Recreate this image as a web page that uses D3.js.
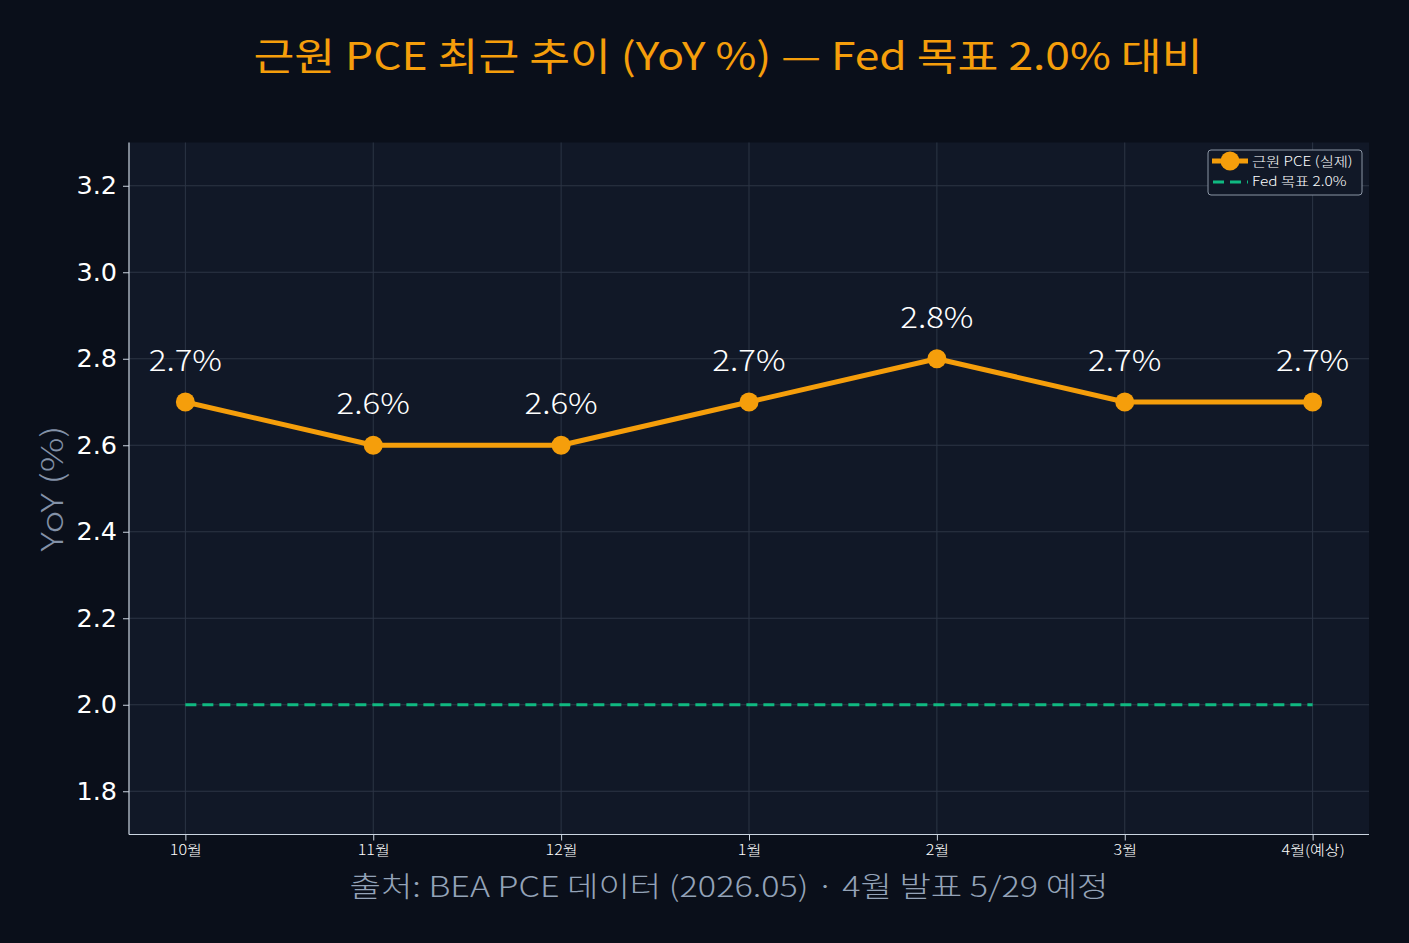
<!DOCTYPE html>
<html><head><meta charset="utf-8">
<script src="https://cdn.jsdelivr.net/npm/d3@7/dist/d3.min.js"></script>
<style>
html,body{margin:0;padding:0;background:#0a0f1a;}
svg{display:block;}
</style></head>
<body>
<svg id="chart" width="1409" height="943"></svg>
<script>
const months = ["10월","11월","12월","1월","2월","3월","4월(예상)"];
const corePCE = [2.7,2.6,2.6,2.7,2.8,2.7,2.7];
const fedTarget = [2.0,2.0,2.0,2.0,2.0,2.0,2.0];
const yTicks = [1.8,2.0,2.2,2.4,2.6,2.8,3.0,3.2];
const titleText = "근원 PCE 최근 추이 (YoY %) — Fed 목표 2.0% 대비";
const yLabel = "YoY (%)";
const sourceText = "출처: BEA PCE 데이터 (2026.05) · 4월 발표 5/29 예정";
const legendLabels = ["근원 PCE (실제)","Fed 목표 2.0%"];

const KR = "'Noto Sans CJK KR','Noto Sans',sans-serif";
const DJ = "'DejaVu Sans',sans-serif";
const W=1409,H=943;
const m={l:129,r:1369,t:142.5,b:834.5};
const svg=d3.select("#chart");
function stretch(sel,f){
  sel.each(function(){const L=this.getComputedTextLength();
    d3.select(this).attr("textLength",L*f).attr("lengthAdjust","spacingAndGlyphs");});
}
svg.append("rect").attr("width",W).attr("height",H).attr("fill","#0a0f1a");
svg.append("rect").attr("x",m.l).attr("y",m.t).attr("width",m.r-m.l).attr("height",m.b-m.t).attr("fill","#111827");

const x=d3.scaleLinear().domain([-0.3,months.length-1+0.3]).range([m.l,m.r]);
const y=d3.scaleLinear().domain([1.7,3.3]).range([m.b,m.t]);

// grid
const g=svg.append("g");
g.selectAll(".gx").data(months).enter().append("line")
 .attr("x1",(d,i)=>x(i)).attr("x2",(d,i)=>x(i)).attr("y1",m.t).attr("y2",m.b)
 .attr("stroke","#2c3545").attr("stroke-width",1);
g.selectAll(".gy").data(yTicks).enter().append("line")
 .attr("x1",m.l).attr("x2",m.r).attr("y1",d=>y(d)).attr("y2",d=>y(d))
 .attr("stroke","#2c3545").attr("stroke-width",1);

// axes
const yAxis=d3.axisLeft(y).tickValues(yTicks).tickFormat(d3.format(".1f")).tickSize(6).tickPadding(6);
const ya=svg.append("g").attr("transform",`translate(${m.l},0)`).call(yAxis);
ya.select(".domain").remove();
ya.selectAll(".tick line").attr("stroke","#cbd5e1");
ya.selectAll(".tick text").attr("fill","#ffffff").attr("font-family",DJ).attr("font-size",25.5);

const xAxis=d3.axisBottom(x).tickValues(d3.range(months.length)).tickFormat(i=>months[i]).tickSize(6).tickPadding(5);
const xa=svg.append("g").attr("transform",`translate(0,${m.b})`).call(xAxis);
xa.select(".domain").remove();
xa.selectAll(".tick line").attr("stroke","#cbd5e1");
xa.selectAll(".tick text").attr("fill","#ffffff").attr("font-family",KR).attr("font-size",14).attr("font-weight",300).call(stretch,1.15);

// spines
svg.append("line").attr("x1",m.l).attr("x2",m.l).attr("y1",m.t).attr("y2",m.b).attr("stroke","#cbd5e1").attr("stroke-width",1.2);
svg.append("line").attr("x1",m.l).attr("x2",m.r).attr("y1",m.b).attr("y2",m.b).attr("stroke","#cbd5e1").attr("stroke-width",1.2);

// target line
const line=d3.line().x((d,i)=>x(i)).y(d=>y(d));
svg.append("path").datum(fedTarget).attr("d",line).attr("fill","none")
 .attr("stroke","#10b981").attr("stroke-width",3).attr("stroke-dasharray","11,6");

// pce line
svg.append("path").datum(corePCE).attr("d",line).attr("fill","none")
 .attr("stroke","#f59e0b").attr("stroke-width",5).attr("stroke-linejoin","round");
svg.selectAll(".pt").data(corePCE).enter().append("circle")
 .attr("cx",(d,i)=>x(i)).attr("cy",d=>y(d)).attr("r",9.5).attr("fill","#f59e0b");
svg.selectAll(".lbl").data(corePCE).enter().append("text")
 .attr("x",(d,i)=>x(i)).attr("y",d=>y(d)-31).attr("text-anchor","middle")
 .attr("fill","#ffffff").attr("font-family",KR).attr("font-size",29).attr("font-weight",300)
 .text(d=>d.toFixed(1)+"%").call(stretch,1.14);

// title
svg.append("text").attr("x",728).attr("y",70).attr("text-anchor","middle")
 .attr("fill","#f59e0b").attr("font-family",KR).attr("font-size",38).attr("font-weight",400).text(titleText)
 .call(stretch,1.168);

// y label
svg.append("text").attr("transform",`translate(63,${(m.t+m.b)/2}) rotate(-90)`).attr("text-anchor","middle")
 .attr("fill","#8391a7").attr("font-family",KR).attr("font-size",30).attr("font-weight",300).text(yLabel)
 .attr("textLength",126).attr("lengthAdjust","spacingAndGlyphs");

// source
svg.append("text").attr("x",729).attr("y",897).attr("text-anchor","middle")
 .attr("fill","#94a3b8").attr("font-family",KR).attr("font-size",28).attr("font-weight",300).text(sourceText)
 .call(stretch,1.22);

// legend
const lg=svg.append("g").attr("transform","translate(1208,150)");
lg.append("rect").attr("width",154).attr("height",45).attr("rx",3)
 .attr("fill","#111827").attr("stroke","#8b95a5").attr("stroke-width",1);
lg.append("line").attr("x1",4).attr("x2",40).attr("y1",11).attr("y2",11).attr("stroke","#f59e0b").attr("stroke-width",5);
lg.append("circle").attr("cx",22).attr("cy",11).attr("r",9.5).attr("fill","#f59e0b");
lg.append("line").attr("x1",5).attr("x2",40).attr("y1",32).attr("y2",32).attr("stroke","#10b981").attr("stroke-width",3).attr("stroke-dasharray","11,6");
lg.selectAll(".lt").data(legendLabels).enter().append("text")
 .attr("x",44).attr("y",(d,i)=>16+i*20).attr("fill","#ffffff").attr("font-family",KR).attr("font-size",13).attr("font-weight",300).text(d=>d)
 .call(stretch,1.18);
</script>
</body></html>
